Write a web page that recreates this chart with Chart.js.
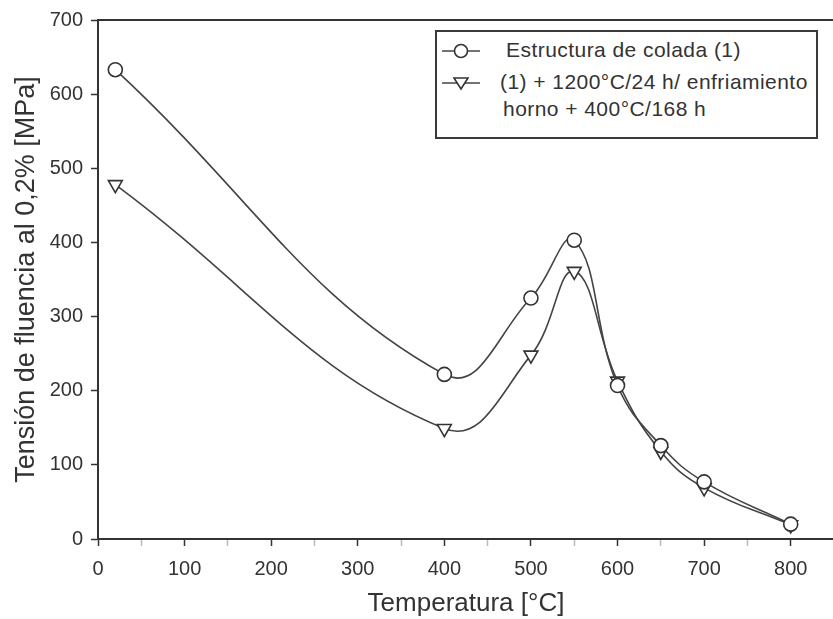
<!DOCTYPE html>
<html><head><meta charset="utf-8">
<script src="https://cdn.jsdelivr.net/npm/chart.js@4"></script>
<style>
html,body{margin:0;padding:0;background:#fff;overflow:hidden;width:833px;height:619px}
#wrap{position:relative;width:845px;height:619px}
#legend{position:absolute;left:435px;top:30px;width:379px;height:105px;border:2px solid #3a3a3a;background:#fff;font-family:"Liberation Sans",Arial,sans-serif;font-size:21px;color:#333;letter-spacing:0.45px}
.sym{position:absolute;left:5px}
.txt{position:absolute;left:69px;white-space:nowrap}
</style></head>
<body>
<div id="wrap">
<canvas id="c" width="845" height="619"></canvas>
<div id="legend">
  <svg class="sym" style="top:10px" width="40" height="18"><line x1="0" y1="9" x2="38" y2="9" stroke="#444" stroke-width="1.5"/><circle cx="19" cy="9" r="6.5" fill="#fff" stroke="#333" stroke-width="1.6"/></svg>
  <div class="txt" style="top:6px">Estructura de colada (1)</div>
  <svg class="sym" style="top:42px" width="40" height="18"><line x1="0" y1="9" x2="38" y2="9" stroke="#444" stroke-width="1.5"/><polygon points="12,4 26,4 19,15" fill="#fff" stroke="#333" stroke-width="1.6"/></svg>
  <div class="txt" style="top:38px;left:63px">(1) + 1200°C/24 h/ enfriamiento</div>
  <div class="txt" style="top:65px;left:66px">horno + 400°C/168 h</div>
</div>
</div>
<script>
const temps = [20, 400, 500, 550, 600, 650, 700, 800];
const colada = [633, 222, 325, 403, 207, 126, 77, 20];
const tratada = [478, 149, 248, 361, 213, 118, 69, 19];
const xTicks = [0, 100, 200, 300, 400, 500, 600, 700, 800];
const yTicks = [0, 100, 200, 300, 400, 500, 600, 700];
const seriesNames = ['Estructura de colada (1)', '(1) + 1200°C/24 h/ enfriamiento horno + 400°C/168 h'];

const FONT = '"Liberation Sans", Arial, sans-serif';
const INK = '#333';

new Chart(document.getElementById('c'), {
  type: 'line',
  data: {
    datasets: [
      {
        label: seriesNames[0],
        data: temps.map((t, i) => ({x: t, y: colada[i]})),
        borderColor: '#444', borderWidth: 1.6,
        pointStyle: 'circle', pointRadius: 7, pointBorderWidth: 1.6,
        pointBackgroundColor: '#fff', pointBorderColor: INK,
        tension: 0.42, fill: false
      },
      {
        label: seriesNames[1],
        data: temps.map((t, i) => ({x: t, y: tratada[i]})),
        borderColor: '#444', borderWidth: 1.6,
        pointStyle: 'triangle', pointRotation: 180, pointRadius: 8, pointBorderWidth: 1.6,
        pointBackgroundColor: '#fff', pointBorderColor: INK,
        tension: 0.42, fill: false
      }
    ]
  },
  options: {
    responsive: false,
    devicePixelRatio: 1,
    animation: false,
    layout: {padding: {top: 18, right: 9, left: 0, bottom: 0}},
    plugins: {legend: {display: false}, tooltip: {enabled: false}},
    scales: {
      x: {
        type: 'linear', position: 'bottom', min: 0, max: 850,
        afterFit: s => { s.height = 80; },
        afterBuildTicks: s => {
          const t = [];
          for (let v = 0; v <= 850; v += 50) t.push({value: v});
          s.ticks = t;
        },
        ticks: {
          autoSkip: false, maxRotation: 0, padding: 11,
          color: INK, font: {family: FONT, size: 20},
          callback: v => xTicks.includes(v) ? String(v) : ''
        },
        grid: {
          display: true, drawOnChartArea: false, drawTicks: true, tickLength: 7,
          tickColor: c => (c.tick && c.tick.value % 100 === 0) ? INK : 'rgba(60,60,60,0.35)',
          tickWidth: 1.5
        },
        border: {display: true, color: INK, width: 2},
        title: {display: true, text: 'Temperatura [°C]', color: INK, font: {family: FONT, size: 26}, padding: {top: 0, bottom: 0}}
      },
      xTop: {
        type: 'linear', position: 'top', min: 0, max: 850,
        afterFit: s => { s.height = 0; },
        ticks: {display: false},
        grid: {display: false},
        border: {display: true, color: INK, width: 2}
      },
      y: {
        type: 'linear', min: 0, max: 700,
        afterFit: s => { s.width = 98; },
        afterBuildTicks: s => { s.ticks = yTicks.map(v => ({value: v})); },
        ticks: {padding: 8, color: INK, font: {family: FONT, size: 20}},
        grid: {display: true, drawOnChartArea: false, drawTicks: true, tickLength: 7, tickColor: INK, tickWidth: 1.5},
        border: {display: true, color: INK, width: 2},
        title: {display: true, text: 'Tensión de fluencia al 0,2% [MPa]', color: INK, font: {family: FONT, size: 27}, padding: {top: 10, bottom: 0}}
      }
    }
  }
});
</script>
</body></html>
